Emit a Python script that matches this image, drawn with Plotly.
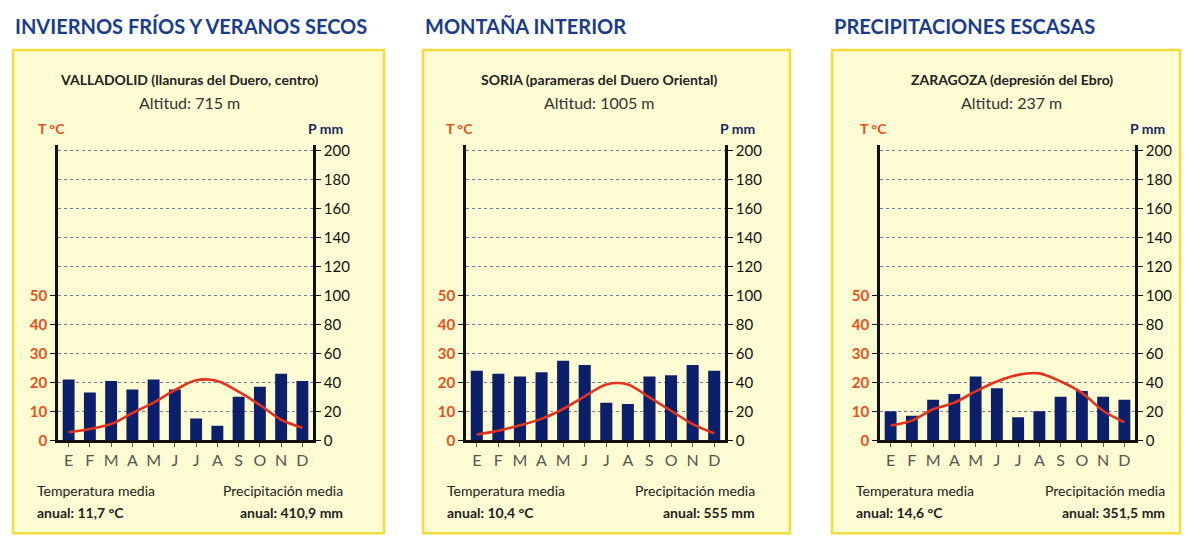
import plotly.graph_objects as go

W, H = 1187, 552

months = ["E", "F", "M", "A", "M", "J", "J", "A", "S", "O", "N", "D"]
month_idx = list(range(12))

headers = ["INVIERNOS FRÍOS Y VERANOS SECOS", "MONTAÑA INTERIOR", "PRECIPITACIONES ESCASAS"]
stations = ["VALLADOLID (llanuras del Duero, centro)",
            "SORIA (parameras del Duero Oriental)",
            "ZARAGOZA (depresión del Ebro)"]
altitudes = ["Altitud: 715 m", "Altitud: 1005 m", "Altitud: 237 m"]
temp_means = ["anual: 11,7 °C", "anual: 10,4 °C", "anual: 14,6 °C"]
prec_means = ["anual: 410,9 mm", "anual: 555 mm", "anual: 351,5 mm"]

valladolid_p = [42, 33, 41, 35, 42, 35, 15, 10, 30, 37, 46, 41]
valladolid_t = [2.8, 3.9, 5.6, 9.4, 13.0, 17.3, 20.7, 20.5, 16.8, 12.2, 7.1, 4.3]
soria_p = [48, 46, 44, 47, 55, 52, 26, 25, 44, 45, 52, 48]
soria_t = [2.0, 3.3, 5.2, 7.4, 10.8, 15.2, 19.3, 19.3, 14.8, 10.2, 5.6, 2.4]
zaragoza_p = [20, 17, 28, 32, 44, 36, 16, 20, 30, 34, 30, 28]
zaragoza_t = [5.1, 6.8, 10.7, 13.0, 16.9, 20.3, 22.6, 23.1, 20.3, 16.4, 10.2, 6.2]

p_series = [valladolid_p, soria_p, zaragoza_p]
t_series = [valladolid_t, soria_t, zaragoza_t]

t_ticks = [0, 10, 20, 30, 40, 50]
p_ticks = [0, 20, 40, 60, 80, 100, 120, 140, 160, 180, 200]

# layout geometry (pixels)
plot_x = [(58, 313), (466, 725), (880, 1135)]
box_x = [(13, 384), (423, 790), (832, 1180)]
box_y = (47, 541)
plot_y = (144, 446)

FONT = "Lato, Open Sans, sans-serif"
NAVY = "#0c1f6b"
RED = "#e3331f"
ORANGE = "#e8501c"
HEAD = "#1b3c8c"

def px(x):
    return x / W

def py(y):
    return 1 - y / H

fig = go.Figure()
layout = dict(
    width=W, height=H, margin=dict(l=0, r=0, t=0, b=0),
    paper_bgcolor="white", plot_bgcolor="white", showlegend=False,
    font=dict(family=FONT, color="#222"),
)
shapes = []
annotations = []

for i in range(3):
    n = i + 1
    xa = f"x{n}" if n > 1 else "x"
    yl = 2 * i + 1
    yr = 2 * i + 2
    yla = f"y{yl}" if yl > 1 else "y"
    yra = f"y{yr}"

    bx0, bx1 = box_x[i]
    shapes.append(dict(type="rect", xref="paper", yref="paper",
                       x0=px(bx0), x1=px(bx1), y0=py(box_y[1]), y1=py(box_y[0]),
                       fillcolor="#fefcd2", line=dict(color="#f4dc3c", width=2.5), layer="below"))

    fig.add_trace(go.Bar(x=month_idx, y=p_series[i], xaxis=xa, yaxis=yra,
                         marker=dict(color=NAVY, line=dict(width=0)), width=0.56))
    fig.add_trace(go.Scatter(x=month_idx, y=[v * 2 for v in t_series[i]], xaxis=xa, yaxis=yra,
                             mode="lines", line=dict(color=RED, width=2.6, shape="spline", smoothing=0.9)))
    fig.add_trace(go.Scatter(x=[0], y=[0], xaxis=xa, yaxis=yla, mode="markers",
                             marker=dict(opacity=0), hoverinfo="skip"))

    x0, x1 = plot_x[i]
    dom_x = [px(x0), px(x1)]
    dom_y = [py(plot_y[1]), py(plot_y[0])]
    xkey = "xaxis" if n == 1 else f"xaxis{n}"
    layout[xkey] = dict(domain=dom_x, anchor=yla, range=[-0.5, 11.5],
                        tickmode="array", tickvals=month_idx, ticktext=months,
                        ticks="outside", ticklen=4, tickcolor="#555",
                        showline=True, linecolor="#111", linewidth=2.5,
                        showgrid=False, zeroline=False, fixedrange=True,
                        tickfont=dict(size=16, color="#555", family=FONT))
    lkey = "yaxis" if yl == 1 else f"yaxis{yl}"
    layout[lkey] = dict(domain=dom_y, anchor=xa, range=[0, 102], side="left",
                        tickmode="array", tickvals=t_ticks, ticks="outside", ticklen=5,
                        tickcolor="#111", showline=True, linecolor="#111", linewidth=2.5,
                        showgrid=False, zeroline=False, fixedrange=True,
                        tickfont=dict(size=15, color=ORANGE, family=FONT, weight="bold"))
    layout[f"yaxis{yr}"] = dict(domain=dom_y, anchor=xa, overlaying=yla, range=[0, 204], side="right",
                                tickmode="array", tickvals=p_ticks, ticks="outside", ticklen=5,
                                tickcolor="#111", showline=True, linecolor="#111", linewidth=2.5,
                                showgrid=True, gridcolor="#6d7f9e", griddash="dot", gridwidth=1.2,
                                zeroline=False, fixedrange=True,
                                tickfont=dict(size=15, color="#111", family=FONT))

    cx = (x0 + x1) / 2
    annotations += [
        dict(text=f"<b>{headers[i]}</b>", x=px(bx0), y=py(22), xanchor="left", yanchor="middle",
             font=dict(size=20, color=HEAD, family=FONT, weight=900)),
        dict(text=f"<b>{stations[i]}</b>", x=px(cx + 4), y=py(77), xanchor="center", yanchor="middle",
             font=dict(size=14, color="#222", family=FONT)),
        dict(text=altitudes[i], x=px(cx + 4), y=py(101), xanchor="center", yanchor="middle",
             font=dict(size=16, color="#333", family=FONT)),
        dict(text="<b>T °C</b>", x=px(x0 - 22), y=py(127), xanchor="left", yanchor="middle",
             font=dict(size=14, color=ORANGE, family=FONT)),
        dict(text="<b>P mm</b>", x=px(x1 + 32), y=py(127), xanchor="right", yanchor="middle",
             font=dict(size=14, color="#1b2a5c", family=FONT)),
        dict(text="Temperatura media", x=px(bx0 + 22), y=py(497), xanchor="left", yanchor="middle",
             font=dict(size=14, color="#222", family=FONT)),
        dict(text=f"<b>{temp_means[i]}</b>", x=px(bx0 + 22), y=py(520), xanchor="left", yanchor="middle",
             font=dict(size=14, color="#222", family=FONT)),
        dict(text="Precipitación media", x=px(x1 + 32), y=py(497), xanchor="right", yanchor="middle",
             font=dict(size=14, color="#222", family=FONT)),
        dict(text=f"<b>{prec_means[i]}</b>", x=px(x1 + 32), y=py(520), xanchor="right", yanchor="middle",
             font=dict(size=14, color="#222", family=FONT)),
    ]

for a in annotations:
    a.update(xref="paper", yref="paper", showarrow=False)

layout["shapes"] = shapes
layout["annotations"] = annotations
fig.update_layout(**layout)
fig.write_html("out.html", config={"displayModeBar": False},
               post_script="document.body.style.margin='0';document.body.style.overflow='hidden';")
